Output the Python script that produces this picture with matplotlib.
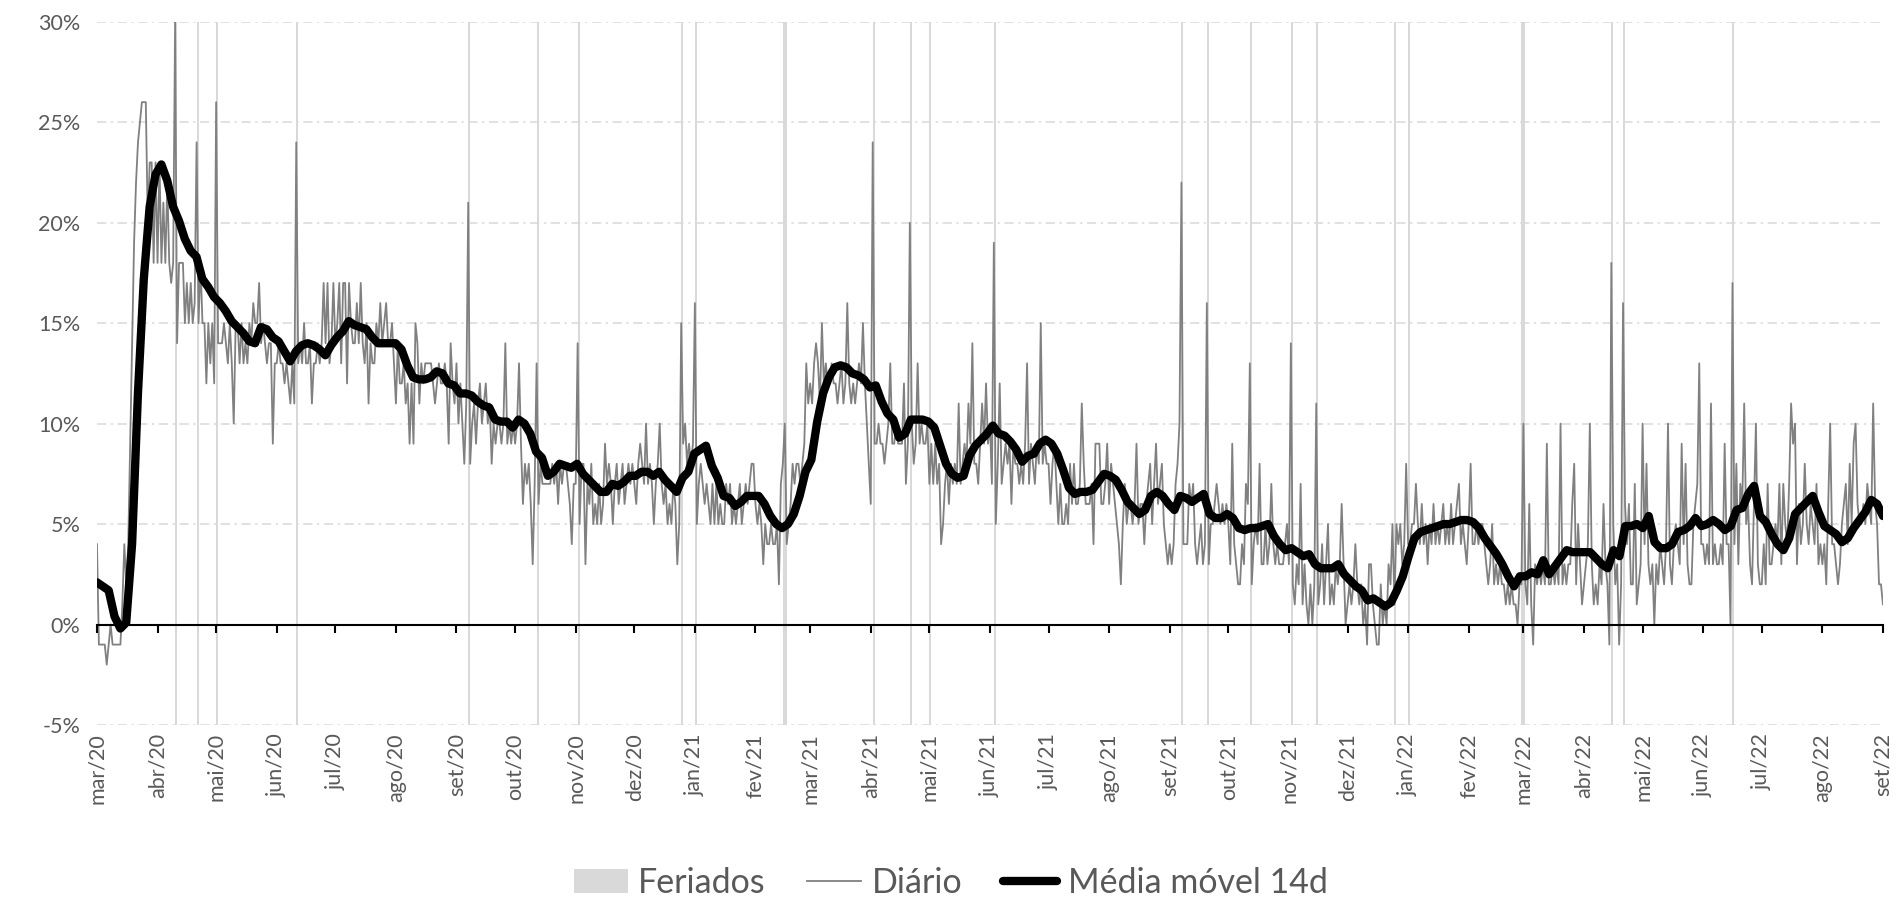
"""
Daily series vs 14-day moving average, with holidays marked as grey columns.
Values read off the reference chart (percent).
"""
import pandas as pd
import matplotlib; matplotlib.use("Agg"); import matplotlib.pyplot as plt
import matplotlib.dates as mdates
from matplotlib.patches import Patch
from matplotlib.lines import Line2D

plt.rcParams['font.family'] = ['Lato', 'DejaVu Sans']

START, END = "2020-03-01", "2022-09-01"

# daily values, one per day from 1 Mar 2020 (one row per month)
daily_2020 = [
    4, -1, -1, -1, -1, -2, -1, 0, -1, -1, -1, -1, -1, 1, 4, 2, 4, 9, 14, 19, 22, 24, 25, 26, 26, 26, 20, 23, 23, 18, 23,
    18, 23, 18, 21, 18, 22, 18, 17, 18, 30, 14, 18, 18, 18, 15, 17, 15, 17, 15, 16, 24, 15, 18, 15, 15, 12, 15, 13, 15, 12,
    26, 14, 14, 14, 15, 14, 13, 15, 13, 10, 15, 15, 13, 15, 13, 14, 13, 15, 14, 16, 15, 15, 17, 14, 15, 14, 13, 14, 14, 9, 13,
    13, 14, 13, 13, 12, 13, 12, 11, 13, 11, 24, 13, 14, 13, 15, 13, 13, 14, 11, 13, 13, 14, 13, 14, 17, 14, 17, 13, 14, 17,
    14, 15, 17, 13, 17, 17, 12, 17, 15, 14, 14, 16, 14, 17, 14, 13, 15, 11, 14, 13, 13, 15, 14, 16, 14, 15, 16, 14, 14, 15, 13,
    11, 14, 12, 12, 13, 11, 12, 9, 12, 9, 15, 14, 11, 13, 12, 13, 13, 13, 13, 12, 11, 12, 13, 12, 12, 13, 12, 9, 14, 12, 11,
    13, 10, 12, 10, 8, 11, 21, 8, 10, 11, 9, 11, 12, 10, 11, 12, 10, 11, 8, 10, 9, 10, 10, 9, 10, 14, 9, 10, 9, 10,
    9, 10, 13, 9, 6, 8, 7, 8, 6, 3, 7, 13, 6, 8, 7, 7, 7, 7, 7, 8, 7, 8, 6, 8, 7, 8, 8, 7, 6, 4, 7,
    7, 14, 5, 8, 8, 3, 7, 6, 8, 5, 6, 5, 7, 5, 6, 9, 7, 8, 7, 5, 7, 8, 6, 7, 8, 6, 7, 8, 7, 8,
    7, 6, 8, 9, 8, 7, 10, 7, 8, 7, 5, 7, 8, 10, 7, 6, 7, 5, 6, 5, 7, 6, 3, 5, 15, 9, 10, 8, 9, 8, 9,
]
daily_2021 = [
    16, 5, 7, 8, 7, 6, 7, 6, 5, 7, 5, 7, 5, 6, 5, 5, 7, 6, 7, 5, 6, 5, 6, 7, 5, 6, 7, 6, 7, 8, 8,
    6, 5, 6, 5, 3, 5, 4, 4, 5, 4, 4, 5, 2, 7, 8, 10, 4, 5, 6, 8, 7, 8, 8, 7, 8, 9, 13, 11,
    12, 11, 13, 14, 13, 11, 15, 12, 13, 12, 12, 13, 12, 12, 11, 12, 13, 11, 12, 16, 12, 11, 12, 11, 12, 13, 12, 15, 12, 10, 8,
    6, 24, 9, 9, 10, 9, 9, 8, 9, 10, 13, 9, 9, 10, 9, 9, 9, 12, 7, 9, 20, 10, 8, 9, 13, 9, 10, 9, 9, 10,
    7, 9, 7, 9, 7, 8, 4, 5, 7, 8, 6, 8, 7, 8, 7, 11, 7, 8, 9, 8, 11, 9, 14, 8, 8, 7, 9, 11, 9, 12, 9,
    10, 7, 19, 5, 8, 12, 7, 8, 9, 8, 9, 6, 9, 8, 8, 7, 8, 7, 9, 13, 7, 9, 8, 7, 9, 8, 15, 8, 9, 8,
    8, 6, 8, 9, 7, 5, 7, 5, 5, 6, 5, 8, 6, 8, 6, 6, 7, 11, 8, 6, 6, 6, 7, 4, 9, 9, 9, 6, 6, 7, 9,
    6, 8, 7, 6, 5, 4, 2, 5, 7, 5, 6, 6, 5, 6, 9, 5, 6, 6, 4, 6, 7, 8, 5, 7, 9, 6, 7, 8, 5, 4, 3,
    4, 3, 4, 7, 8, 10, 22, 4, 4, 4, 7, 6, 7, 4, 3, 4, 5, 3, 4, 16, 3, 5, 5, 6, 7, 6, 5, 6, 5, 6,
    5, 3, 9, 4, 3, 2, 2, 4, 3, 7, 6, 13, 2, 4, 5, 4, 8, 3, 3, 5, 3, 4, 7, 4, 3, 4, 3, 3, 3, 4, 5,
    3, 14, 2, 1, 3, 2, 7, 1, 3, 1, 0, 2, 0, 2, 11, 1, 2, 4, 1, 3, 5, 1, 2, 1, 3, 2, 3, 6, 3, 0,
    1, 2, 1, 2, 4, 2, 1, 2, 0, 1, -1, 3, 3, 1, 0, -1, -1, 2, 0, 1, 0, 3, 2, 5, 1, 5, 4, 5, 3, 4, 8,
]
daily_2022 = [
    4, 4, 5, 5, 7, 5, 4, 6, 4, 5, 3, 5, 4, 6, 4, 5, 4, 5, 6, 4, 5, 4, 6, 4, 5, 6, 7, 4, 5, 4, 3,
    5, 8, 4, 4, 5, 4, 5, 5, 4, 3, 2, 3, 5, 2, 3, 2, 3, 2, 2, 1, 2, 1, 2, 1, 1, 0, 2, 2,
    10, 2, 1, 6, 1, -1, 3, 2, 3, 2, 3, 2, 9, 2, 2, 3, 2, 3, 2, 10, 2, 3, 2, 3, 3, 6, 8, 2, 5, 3, 1,
    2, 3, 4, 10, 3, 1, 2, 1, 3, 2, 6, 3, 2, -1, 18, 5, 2, 3, -1, 2, 16, 6, 4, 6, 2, 2, 7, 1, 2, 3,
    10, 4, 8, 3, 2, 3, 0, 3, 2, 4, 3, 2, 4, 10, 3, 2, 4, 5, 4, 3, 9, 4, 8, 3, 2, 2, 5, 6, 7, 13, 4,
    4, 3, 4, 3, 11, 3, 4, 3, 3, 4, 3, 9, 4, 4, 0, 17, 4, 8, 3, 7, 6, 11, 5, 6, 3, 2, 6, 10, 3, 2,
    2, 4, 2, 7, 3, 3, 4, 5, 4, 7, 3, 7, 5, 4, 7, 11, 9, 10, 3, 6, 4, 5, 8, 5, 4, 6, 5, 4, 7, 3, 4,
    3, 4, 2, 6, 10, 4, 4, 3, 2, 3, 5, 6, 7, 4, 8, 5, 9, 10, 6, 5, 5, 6, 5, 7, 6, 5, 11, 6, 5, 2, 2,
    1,
]

# 14-day moving average, read about every 3 days over the whole span
media_movel = [
    2.1, 1.9, 1.7, 0.4, -0.2, 0.1, 4.0, 11.5, 17.2, 20.8,
    22.4, 22.9, 22.1, 20.8, 20.1, 19.2, 18.6, 18.3, 17.2, 16.8,
    16.3, 16.0, 15.6, 15.1, 14.8, 14.5, 14.1, 14.0, 14.8, 14.7,
    14.3, 14.1, 13.6, 13.1, 13.6, 13.9, 14.0, 13.9, 13.7, 13.4,
    13.9, 14.3, 14.6, 15.1, 14.9, 14.8, 14.7, 14.3, 14.0, 14.0,
    14.0, 14.0, 13.7, 12.9, 12.3, 12.2, 12.2, 12.3, 12.6, 12.5,
    12.0, 11.9, 11.5, 11.5, 11.4, 11.1, 10.9, 10.8, 10.2, 10.1,
    10.1, 9.8, 10.2, 10.0, 9.5, 8.6, 8.3, 7.4, 7.6, 8.0,
    7.9, 7.8, 8.0, 7.5, 7.2, 6.9, 6.6, 6.6, 7.0, 6.9,
    7.1, 7.4, 7.4, 7.6, 7.6, 7.4, 7.6, 7.2, 6.9, 6.6,
    7.3, 7.6, 8.5, 8.7, 8.9, 7.9, 7.3, 6.4, 6.3, 5.9,
    6.1, 6.4, 6.4, 6.4, 6.0, 5.4, 5.0, 4.8, 5.0, 5.5,
    6.4, 7.6, 8.2, 10.1, 11.5, 12.3, 12.8, 12.9, 12.8, 12.5,
    12.4, 12.2, 11.8, 11.9, 11.1, 10.5, 10.2, 9.3, 9.5, 10.2,
    10.2, 10.2, 10.1, 9.8, 8.9, 8.0, 7.5, 7.3, 7.4, 8.4,
    8.9, 9.2, 9.5, 9.9, 9.5, 9.4, 9.1, 8.7, 8.1, 8.4,
    8.5, 9.0, 9.2, 9.0, 8.5, 7.7, 6.8, 6.5, 6.6, 6.6,
    6.7, 7.1, 7.5, 7.4, 7.2, 6.7, 6.1, 5.8, 5.5, 5.7,
    6.4, 6.6, 6.4, 6.0, 5.7, 6.4, 6.3, 6.1, 6.3, 6.5,
    5.5, 5.3, 5.3, 5.5, 5.3, 4.8, 4.7, 4.8, 4.8, 4.9,
    5.0, 4.4, 4.0, 3.7, 3.8, 3.6, 3.4, 3.5, 3.0, 2.8,
    2.8, 2.8, 3.0, 2.5, 2.2, 1.9, 1.7, 1.2, 1.3, 1.1,
    0.9, 1.1, 1.7, 2.4, 3.4, 4.3, 4.6, 4.7, 4.8, 4.9,
    5.0, 5.0, 5.1, 5.2, 5.2, 5.1, 4.8, 4.3, 3.9, 3.5,
    3.0, 2.4, 1.9, 2.4, 2.4, 2.6, 2.5, 3.2, 2.5, 2.9,
    3.3, 3.7, 3.6, 3.6, 3.6, 3.6, 3.3, 3.0, 2.8, 3.7,
    3.4, 4.9, 4.9, 5.0, 4.8, 5.4, 4.1, 3.8, 3.8, 4.0,
    4.6, 4.7, 4.9, 5.3, 4.9, 5.0, 5.2, 5.0, 4.7, 4.9,
    5.7, 5.8, 6.5, 6.9, 5.4, 5.1, 4.5, 4.0, 3.7, 4.3,
    5.5, 5.8, 6.1, 6.4, 5.6, 4.9, 4.7, 4.5, 4.1, 4.3,
    4.8, 5.2, 5.6, 6.2, 6.0, 5.4,
]

feriados = [
    "2020-04-10", "2020-04-21", "2020-05-01", "2020-06-11", "2020-09-07",
    "2020-10-12", "2020-11-02", "2020-12-25", "2021-01-01", "2021-02-15",
    "2021-02-16", "2021-04-02", "2021-04-21", "2021-05-01", "2021-06-03",
    "2021-09-07", "2021-09-20", "2021-10-12", "2021-11-02", "2021-11-15",
    "2021-12-25", "2022-01-01", "2022-02-28", "2022-03-01", "2022-04-15",
    "2022-04-21", "2022-06-16",
]

meses = ["mar/20", "abr/20", "mai/20", "jun/20", "jul/20", "ago/20", "set/20",
         "out/20", "nov/20", "dez/20", "jan/21", "fev/21", "mar/21", "abr/21",
         "mai/21", "jun/21", "jul/21", "ago/21", "set/21", "out/21", "nov/21",
         "dez/21", "jan/22", "fev/22", "mar/22", "abr/22", "mai/22", "jun/22",
         "jul/22", "ago/22", "set/22"]
y_ticks = [-5, 0, 5, 10, 15, 20, 25, 30]

daily = daily_2020 + daily_2021 + daily_2022
dias = pd.date_range(START, periods=len(daily), freq="D")
ma_dias = pd.date_range(START, END, periods=len(media_movel))
fer = pd.to_datetime(feriados)
mes_ini = pd.date_range(START, END, freq="MS")

GREY_TXT = "#595959"

fig = plt.figure(figsize=(19.01, 8.97), dpi=100)
ax = fig.add_axes([0.051, 0.1918, 0.9395, 0.7839])

ax.bar(fer, 35, bottom=-5, width=1.0, align="edge", color="#d9d9d9",
       linewidth=0, zorder=1)
ax.plot(dias, daily, color="#808080", lw=1.3, zorder=2)
ax.plot(ma_dias, media_movel, color="black", lw=6, zorder=4,
        solid_capstyle="round", solid_joinstyle="round")

ax.set_xlim(pd.Timestamp(START), pd.Timestamp(END))
ax.set_ylim(-5, 30)

ax.set_yticks(y_ticks)
ax.set_yticklabels([f"{v}%" for v in y_ticks])
ax.yaxis.grid(True, color="#d9d9d9", lw=1.1, linestyle=(0, (6, 3, 1.5, 3)))
ax.set_axisbelow(True)
ax.tick_params(axis="y", length=0, pad=12, labelsize=15.5, labelcolor=GREY_TXT)

for s in ["top", "right", "left"]:
    ax.spines[s].set_visible(False)
ax.spines["bottom"].set_position(("data", 0))
ax.spines["bottom"].set_linewidth(1.5)
ax.spines["bottom"].set_zorder(3)

# month ticks sit on the 0% line, labels go at the bottom of the plot
ax.set_xticks(mes_ini)
ax.tick_params(axis="x", labelbottom=False, length=6, width=1.5,
               direction="out", color="black")
ax.xaxis.set_zorder(3)

sec = ax.secondary_xaxis("bottom")
sec.set_xticks(mdates.date2num(mes_ini), meses, rotation=90)
sec.tick_params(length=0, pad=6, labelsize=15.5, labelcolor=GREY_TXT)
sec.spines["bottom"].set_visible(False)

handles = [Patch(facecolor="#d9d9d9", edgecolor="none"),
           Line2D([], [], color="#808080", lw=1.3),
           Line2D([], [], color="black", lw=6, solid_capstyle="round")]
fig.legend(handles, ["Feriados", "Diário", "Média móvel 14d"], loc="center",
           bbox_to_anchor=(0.5, 0.016), ncol=3, frameon=False, fontsize=24.5,
           handlelength=1.6, handletextpad=0.3, columnspacing=1.2,
           labelcolor=GREY_TXT)

plt.savefig("out.png", dpi=100)
